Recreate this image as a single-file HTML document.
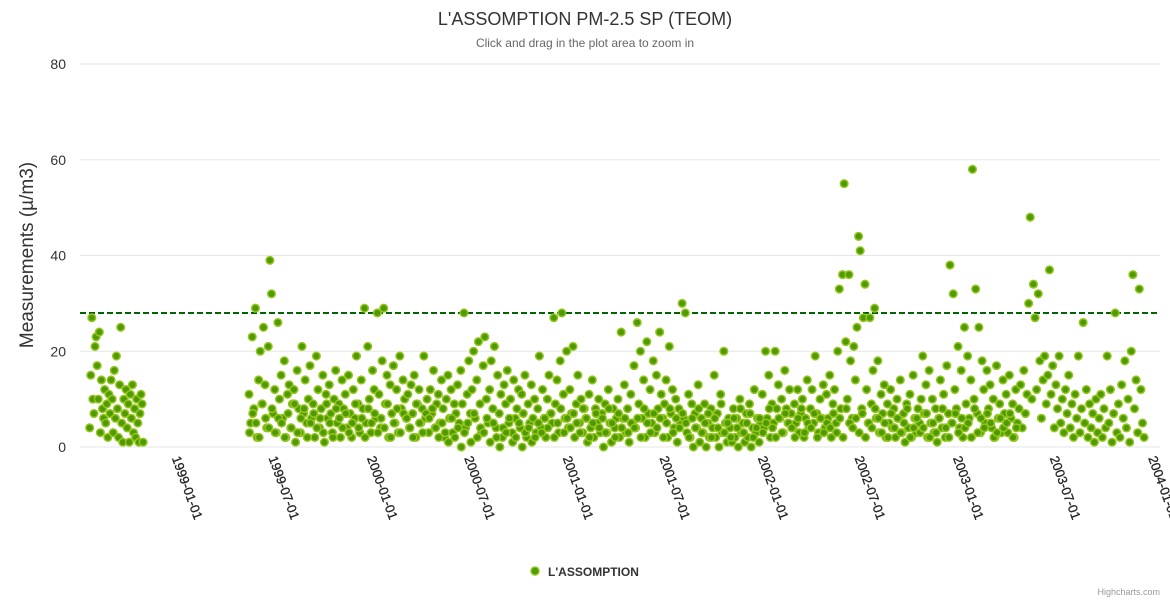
<!DOCTYPE html>
<html><head><meta charset="utf-8"><style>
body{margin:0;background:#fff;font-family:"Liberation Sans",sans-serif}
svg{display:block}
</style></head><body>
<svg id="chart" width="1170" height="600">
<text x="585" y="25" text-anchor="middle" font-size="18" fill="#333">L'ASSOMPTION PM-2.5 SP (TEOM)</text>
<text x="585" y="47" text-anchor="middle" font-size="12" fill="#666">Click and drag in the plot area to zoom in</text>
<text transform="translate(33,255) rotate(-90)" text-anchor="middle" font-size="19" fill="#333">Measurements (µ/m3)</text>
<g id="grid"></g><g id="xlabels"></g><g id="points"></g>
<g>
<circle cx="535" cy="571" r="4" fill="#4f9a00" stroke="#93c51e" stroke-width="1.5"/>
<text x="548" y="576" font-size="12" font-weight="bold" fill="#333">L'ASSOMPTION</text></g>
<text x="1160" y="595" text-anchor="end" font-size="9" fill="#999">Highcharts.com</text>
</svg>
<script>
const yTicks=[0,20,40,60,80];
const xTickLabels=["1999-01-01","1999-07-01","2000-01-01","2000-07-01","2001-01-01","2001-07-01","2002-01-01","2002-07-01","2003-01-01","2003-07-01","2004-01-01"];
const thresholdValue=28;
const seg1Start="1998-07-26";
const seg1Step=2;
const seg1Values=[4,15,27,10,7,21,23,17,10,24,3,14,8,6,12,5,9,2,11,7,14,10,3,16,6,19,8,2,13,25,5,1,10,7,12,4,9,1,11,6,13,3,8,2,10,5,1,7,11,9,1];
const seg2Start="1999-05-20";
const seg2Step=3;
const seg2Values=[11,5,23,8,29,2,14,20,9,25,13,4,21,39,32,7,12,3,26,10,15,6,18,2,11,13,4,9,12,1,16,8,3,21,7,14,5,10,17,6,9,2,19,12,4,8,15,1,11,6,13,7,3,10,16,5,9,2,14,8,11,4,15,7,2,12,6,19,9,3,14,8,29,5,21,10,3,16,12,6,
28,11,4,18,29,9,15,2,13,7,17,5,12,3,19,8,14,10,6,11,4,13,7,15,2,9,12,5,8,19,6,10,3,12,7,16,4,9,11,5,14,8,2,10,15,6,12,3,9,7,13,5,16,9,28,4,11,18,7,12,20,6,14,22,9,3,17,23,10,5,12,18,8,21,4,15,7,11,2,13,9,16,5,10,3,14,6,8,12,4,11,7,15,2,9,5,13,6,10,3,8,19,4,12,6,2,10,15,7,5,27,9,14,3,18,28,11,6,20,4,
12,7,21,2,9,15,5,10,3,8,6,1,11,4,14,2,8,5,10,3,7,0,9,3,12,5,1,8,4,6,10,2,24,6,13,3,8,1,11,5,17,4,26,9,20,6,14,2,22,7,12,5,18,3,15,8,24,11,6,9,14,2,21,7,12,4,10,1,8,5,30,6,28,3,11,2,9,0,7,4,13,1,6,3,9,0,5,2,8,4,15,2,7,0,11,3,20,5,1,6,4,1,8,2,6,0,10,3,5,1,7,2,9,0,4,12,3,6,1,5,
11,4,20,6,15,2,9,5,20,8,13,6,10,3,16,8,5,12,7,4,9,5,12,3,7,10,2,6,14,4,8,12,5,19,7,3,10,6,13,4,11,6,15,2,9,12,5,20,33,8,36,55,22,10,36,18,6,21,14,25,44,41,8,27,34,12,5,27,9,16,29,6,18,3,11,7,13,2,9,5,12,4,8,2,10,6,14,3,7,1,9,4,11,2,15,6,3,8,5,10,19,7,13,2,16,5,10,3,8,1,6,14,4,11,2,17,7,38,5,32,
12,8,21,4,16,2,25,9,19,6,14,58,10,33,7,25,3,18,12,5,16,8,13,4,10,2,17,6,9,3,14,7,11,3,15,6,9,2,12,5,8,13,4,16,7,11,30,48,10,34,27,12,32,18,6,14,19,9,15,37,11,17,4,13,8,19,5,10,3,12,7,15,4,9,2,11,6,19,3,8,26,5,12,2,9,4,7,1,10,3,6,11,2,8,4,19,5,12,1,7,28,3,9,2,13,6,18,4,10,1,20,36,8,14,3,33,12,5,2];
const seg2LowStart="1999-05-21";
const seg2LowStep=6;
const seg2ValuesLow=[3,7,5,2,9,6,4,8,3,6,5,2,7,4,9,3,6,8,2,5,7,4,6,3,9,5,2,8,6,4,
7,3,5,9,4,6,2,8,5,7,3,6,4,9,2,5,8,3,7,6,4,2,9,5,3,7,6,8,4,2,
5,3,1,6,2,4,0,3,5,1,7,2,4,3,6,1,5,2,0,4,3,6,1,2,5,0,3,4,1,2,
5,3,6,4,7,2,5,8,3,6,4,7,5,3,8,6,2,5,7,4,6,3,8,5,2,7,4,6,3,5,
4,6,2,8,5,3,7,4,6,2,5,8,3,6,4,7,5,2,6,4,8,3,5,7,2,6,4,9,3,5,
2,6,4,8,3,5,7,2,4,6,3,5,8,4,2,6,3,7,5,4,2,6,8,3,5,4,7,2,6,3,
5,4,7,3,6,2,8,5,4,6,3,7,2,5,4,8,6,3,5,2,7,4,6,3,5,8,2,4,6,3,
4,7,2,5,3,6,8,4,2,5,7,3,6,4,5,2,8,3,6,4,7,5,2,3,6,4,5,7,2,4];

const NS="http://www.w3.org/2000/svg";
const plotL=80,plotR=1160,y0=447,y80=64;
const yScale=v=>y0-(v/80)*(y0-y80);
const base=Date.UTC(1999,0,1);
const pxPerDay=195.3/365.25;
const xScale=t=>174.7+(t-base)/86400000*pxPerDay;
const parse=s=>{const p=s.split('-');return Date.UTC(+p[0],+p[1]-1,+p[2]);};
function mk(tag,attrs,parent){const e=document.createElementNS(NS,tag);for(const k in attrs)e.setAttribute(k,attrs[k]);parent.appendChild(e);return e;}
const grid=document.getElementById('grid');
yTicks.forEach(v=>{
  const l=mk('line',{x1:plotL,x2:plotR,y1:yScale(v),y2:yScale(v),stroke:'#e6e6e6','stroke-width':1},grid);
  
  
  const t=mk('text',{x:66,y:yScale(v)+5,'text-anchor':'end','font-size':14,fill:'#333'},grid);
  t.textContent=v;
  
  
});
const xl=document.getElementById('xlabels');
xTickLabels.forEach(s=>{
  const x=xScale(parse(s));
  const t=mk('text',{transform:`translate(${x-3},${458}) rotate(70)`,'font-size':13,fill:'#222','stroke':'#222','stroke-width':0.3},xl);
  t.textContent=s;
  
  
});
const th=mk('line',{x1:plotL,x2:plotR,y1:yScale(thresholdValue),y2:yScale(thresholdValue),stroke:'#006400','stroke-width':2,'stroke-dasharray':'6,3'},grid);


const pts=document.getElementById('points');
function drawSeg(start,step,vals){
  const s=parse(start);
  vals.forEach((v,i)=>{
    if(v==null)return;
    const c=mk('circle',{cx:xScale(s+i*step*86400000),cy:yScale(v),r:3.8,fill:'#4f9a00',stroke:'#93c51e','stroke-width':1.5},pts);
    
    
  });
}
drawSeg(seg1Start,seg1Step,seg1Values);
drawSeg(seg2Start,seg2Step,seg2Values);
drawSeg(seg2LowStart,seg2LowStep,seg2ValuesLow);
</script>
</body></html>
